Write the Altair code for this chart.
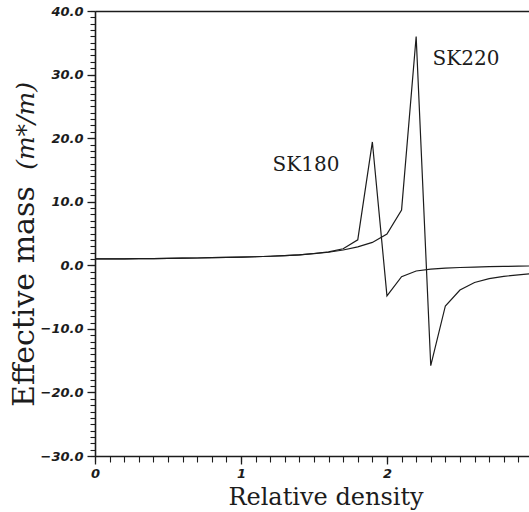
import altair as alt
import pandas as pd

density = [round(i * 0.1, 1) for i in range(31)]
sk180 = [1.00, 1.00, 1.02, 1.04, 1.06, 1.09, 1.12, 1.15, 1.19, 1.23, 1.28,
         1.34, 1.42, 1.52, 1.65, 1.85, 2.10, 2.60, 4.00, 19.4, -4.80,
         -1.80, -0.90, -0.60, -0.45, -0.35, -0.28, -0.22, -0.18, -0.14, -0.10]
sk220 = [1.00, 1.00, 1.02, 1.04, 1.06, 1.09, 1.12, 1.15, 1.19, 1.23, 1.28,
         1.34, 1.42, 1.52, 1.65, 1.82, 2.05, 2.40, 2.90, 3.60, 4.90,
         8.70, 36.0, -15.8, -6.40, -3.90, -2.70, -2.10, -1.75, -1.50, -1.30]

y_major = [-30, -20, -10, 0, 10, 20, 30, 40]
y_minor = list(range(-30, 41))
x_major = [0, 1, 2, 3]
x_minor = [round(i * 0.1, 1) for i in range(31)]

series_labels = ["SK180", "SK220"]
x_title = "Relative density"
y_title_main = "Effective mass"
y_title_unit = "(m*/m)"

rows = []
for name, vals in (("SK180", sk180), ("SK220", sk220)):
    for d, v in zip(density, vals):
        rows.append({"x": d, "y": v, "series": name})
df = pd.DataFrame(rows)

INK = "#1c1c1c"
xs = alt.Scale(domain=[0, 2.973], nice=False, zero=False)
ys = alt.Scale(domain=[-30, 40], nice=False, zero=False)

tick_font = dict(labelFont="DejaVu Sans", labelFontWeight="bold", labelFontStyle="italic",
                 labelFontSize=13, labelColor=INK)

x_major_axis = alt.Axis(values=x_major, format="d", title=None, grid=False, orient="bottom",
                        tickSize=8, tickColor=INK, tickWidth=1.3, domainColor=INK, domainWidth=1.6,
                        labelPadding=3, labelFlush=False, labelOverlap=False, **tick_font)
y_major_axis = alt.Axis(values=y_major, format=".1f", title=None, grid=False, orient="left",
                        tickSize=8, tickColor=INK, tickWidth=1.3, domainColor=INK, domainWidth=1.6,
                        labelPadding=4, labelOverlap=False, **tick_font)
x_minor_axis = alt.Axis(values=x_minor, labels=False, title=None, grid=False, orient="bottom",
                        domain=False, tickSize=6, tickColor=INK, tickWidth=1.1)
y_minor_axis = alt.Axis(values=y_minor, labels=False, title=None, grid=False, orient="left",
                        domain=False, tickSize=5, tickColor=INK, tickWidth=1.1)
x_top_axis = alt.Axis(labels=False, ticks=False, title=None, grid=False, orient="top",
                      domainColor=INK, domainWidth=1.6)

base = alt.Chart(df)
lines = base.mark_line(color=INK, strokeWidth=1.2).encode(
    x=alt.X("x:Q", scale=xs, axis=x_major_axis),
    y=alt.Y("y:Q", scale=ys, axis=y_major_axis),
    detail="series:N",
)
minor = base.mark_line(opacity=0).encode(
    x=alt.X("x:Q", scale=xs, axis=x_minor_axis),
    y=alt.Y("y:Q", scale=ys, axis=y_minor_axis),
    detail="series:N",
)
top = base.mark_line(opacity=0).encode(
    x=alt.X("x:Q", scale=xs, axis=x_top_axis),
    y=alt.Y("y:Q", scale=ys, axis=None),
    detail="series:N",
)

lab_df = pd.DataFrame({"t": series_labels})
sk180_txt = alt.Chart(lab_df[lab_df.t == "SK180"]).mark_text(
    font="DejaVu Serif", fontSize=20, color=INK, align="center", baseline="alphabetic"
).encode(text="t:N", x=alt.value(211), y=alt.value(160))
sk220_txt = alt.Chart(lab_df[lab_df.t == "SK220"]).mark_text(
    font="DejaVu Serif", fontSize=20, color=INK, align="center", baseline="alphabetic"
).encode(text="t:N", x=alt.value(371), y=alt.value(54))

xt = alt.Chart(pd.DataFrame({"t": [x_title]})).mark_text(
    font="DejaVu Serif", fontSize=24, color=INK, align="center", baseline="alphabetic"
).encode(text="t:N", x=alt.value(231), y=alt.value(494))
yt1 = alt.Chart(pd.DataFrame({"t": [y_title_main]})).mark_text(
    font="DejaVu Serif", fontSize=30, color=INK, align="left", baseline="alphabetic", angle=270
).encode(text="t:N", x=alt.value(-61), y=alt.value(396))
yt2 = alt.Chart(pd.DataFrame({"t": [y_title_unit]})).mark_text(
    font="DejaVu Serif", fontSize=25, fontStyle="italic", color=INK, align="right",
    baseline="alphabetic", angle=270
).encode(text="t:N", x=alt.value(-61), y=alt.value(71))

chart = alt.layer(lines, minor, top, sk180_txt, sk220_txt, xt, yt1, yt2).resolve_axis(
    x="independent", y="independent"
).properties(
    width=434, height=445,
    padding={"left": 95, "top": 11, "right": 0, "bottom": 56},
    autosize=alt.AutoSizeParams(type="none"),
    background="white",
).configure_view(stroke=None)

chart.save("out.html", embed_options={"renderer": "svg", "actions": False})
